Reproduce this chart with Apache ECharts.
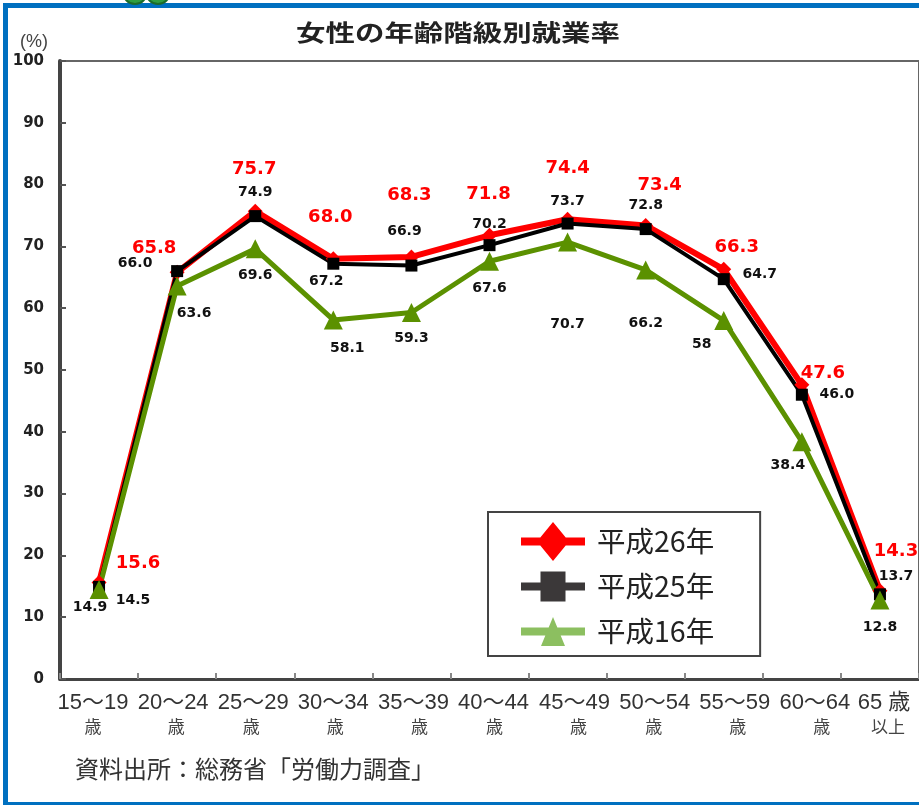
<!DOCTYPE html>
<html>
<head>
<meta charset="utf-8">
<title>女性の年齢階級別就業率</title>
<style>
  html, body { margin: 0; padding: 0; background: #fff; }
  #chart { width: 919px; height: 805px; }
</style>
<script src="https://cdn.jsdelivr.net/npm/echarts@6/dist/echarts.min.js"></script>
</head>
<body>
<div id="chart"></div>
<script>
var ageGroups = ['15～19', '20～24', '25～29', '30～34', '35～39', '40～44', '45～49', '50～54', '55～59', '60～64', '65 歳'];
var ageSuffix = ['歳', '歳', '歳', '歳', '歳', '歳', '歳', '歳', '歳', '歳', '以上'];
var yTicks = [0, 10, 20, 30, 40, 50, 60, 70, 80, 90, 100];

var h26 = [15.6, 65.8, 75.7, 68.0, 68.3, 71.8, 74.4, 73.4, 66.3, 47.6, 14.3];
var h25 = [14.9, 66.0, 74.9, 67.2, 66.9, 70.2, 73.7, 72.8, 64.7, 46.0, 13.7];
var h16 = [14.5, 63.6, 69.6, 58.1, 59.3, 67.6, 70.7, 66.2, 58, 38.4, 12.8];
var h16Text = ['14.5', '63.6', '69.6', '58.1', '59.3', '67.6', '70.7', '66.2', '58', '38.4', '12.8'];

// ラベルは元の図で手置きされているので点ごとにずらす
var h26Offset = [[39, -19], [-23, -24], [-1, -42], [-3, -41], [-2, -62], [-1, -41], [0, -51], [14, -40], [13, -22], [21, -12], [16, -39]];
var h25Offset = [[-9, 20], [-42, -8], [0, -24], [-7, 18], [-7, -34], [0, -21], [0, -22], [0, -24], [36, -5], [35, 0], [16, -18]];
var h16Offset = [[34, 11], [17, 27], [0, 26], [14, 28], [0, 26], [0, 27], [0, 82], [0, 53], [-22, 24], [-14, 24], [0, 27]];
var xLabelShift = [-6, -4, -2, 0, 2, 4, 7, 9, 11, 13, 4];
var suffixShift = [0, 3, -2, 2, 6, 1, 4, -1, 3, 7, 4];

// 凡例の記号は大きさが違うので、線ごと 64x39 のパスで描く
var legendLine = 'path://M0 15.5L64 15.5L64 23.5L0 23.5Z';
var iconDiamond = legendLine + 'M32 0L48 19.5L32 39L16 19.5Z';
var iconSquare = legendLine + 'M32 0L32 0ZM32 39L32 39ZM19.5 4.5L44.5 4.5L44.5 34.5L19.5 34.5Z';
var iconTriangle = legendLine + 'M32 0L32 0ZM32 39L32 39ZM32 5L44 34L20 34Z';

function pointData(values, offsets, texts) {
  return values.map(function (v, i) {
    return {
      value: v,
      label: {
        offset: offsets[i],
        formatter: texts ? texts[i] : v.toFixed(1)
      }
    };
  });
}

function makeSeries(name, values, offsets, color, symbol, size, width, fontSize, texts) {
  return {
    name: name,
    type: 'line',
    data: pointData(values, offsets, texts),
    symbol: symbol,
    symbolSize: size,
    showAllSymbol: true,
    lineStyle: { color: color, width: width },
    itemStyle: { color: color },
    label: {
      show: true,
      position: 'inside',
      color: name === '平成26年' ? '#ff0000' : '#111',
      fontFamily: 'DejaVu Sans',
      fontWeight: 'bold',
      fontSize: fontSize
    },
    emphasis: { disabled: true },
    animation: false
  };
}

// 二行目の字の位置が列ごとに揃っていないので、ずれごとにスタイルを作る
var xRich = {};
suffixShift.forEach(function (d, i) {
  xRich['s' + i] = {
    fontFamily: 'Noto Sans CJK JP',
    fontSize: 17,
    color: '#444',
    lineHeight: 24,
    padding: d > 0 ? [0, 0, 0, d * 2] : [0, -d * 2, 0, 0]
  };
});

var chart = echarts.init(document.getElementById('chart'), null, { renderer: 'canvas' });
chart.setOption({
  animation: false,
  backgroundColor: '#ffffff',
  title: {
    text: '資料出所：総務省「労働力調査」',
    left: 70,
    top: 752,
    textStyle: { fontFamily: 'Noto Sans CJK JP', fontSize: 24, fontWeight: 'normal', color: '#333' }
  },
  grid: {
    show: true,
    left: 60,
    right: 0,
    top: 61,
    bottom: 126,
    borderColor: '#666',
    borderWidth: 2
  },
  legend: {
    left: 488,
    top: 512,
    orient: 'vertical',
    backgroundColor: '#fff',
    borderColor: '#444',
    borderWidth: 2,
    padding: [10, 46, 5, 33],
    itemWidth: 64,
    itemHeight: 39,
    itemGap: 6,
    textStyle: { fontFamily: 'Noto Sans CJK JP', fontSize: 28.5, color: '#222', padding: [0, 0, 0, 7] },
    data: [
      { name: '平成26年', icon: iconDiamond, itemStyle: { color: '#ff0000' } },
      { name: '平成25年', icon: iconSquare, itemStyle: { color: '#3b3839' } },
      { name: '平成16年', icon: iconTriangle, itemStyle: { color: '#8cbf60' } }
    ]
  },
  xAxis: {
    type: 'category',
    boundaryGap: true,
    data: ageGroups.map(function (g, i) {
      return {
        value: g,
        textStyle: {
          padding: xLabelShift[i] > 0 ? [0, 0, 0, xLabelShift[i] * 2] : [0, -xLabelShift[i] * 2, 0, 0]
        }
      };
    }),
    axisLine: { onZero: false, lineStyle: { color: '#444', width: 3 } },
    axisTick: { show: true, inside: true, length: 6, lineStyle: { color: '#888', width: 2 }, alignWithLabel: false },
    axisLabel: {
      interval: 0,
      margin: 12,
      hideOverlap: false,
      fontFamily: 'Liberation Sans, Noto Sans CJK JP',
      fontSize: 22,
      lineHeight: 24,
      color: '#333',
      formatter: function (value, index) {
        return value + '\n{s' + index + '|' + ageSuffix[index] + '}';
      },
      rich: xRich
    }
  },
  yAxis: {
    type: 'value',
    min: yTicks[0],
    max: yTicks[yTicks.length - 1],
    interval: 10,
    name: '(%)',
    nameLocation: 'end',
    nameGap: 10,
    nameTextStyle: { fontFamily: 'Liberation Sans', fontSize: 18, color: '#444', align: 'right', padding: [0, 12, 0, 0] },
    axisLine: { show: true, lineStyle: { color: '#444', width: 4 } },
    axisTick: { show: true, inside: true, length: 6, lineStyle: { color: '#555', width: 2 } },
    splitLine: { show: false },
    axisLabel: {
      margin: 16,
      fontFamily: 'DejaVu Sans',
      fontWeight: 'bold',
      fontSize: 15,
      color: '#222'
    }
  },
  series: [
    makeSeries('平成26年', h26, h26Offset, '#ff0000', 'diamond', 15, 6, 18),
    makeSeries('平成25年', h25, h25Offset, '#000000', 'rect', 12, 4, 14),
    makeSeries('平成16年', h16, h16Offset, '#5b9100', 'triangle', 19, 5, 14, h16Text)
  ],
  graphic: [
    // 枠
    { type: 'rect', silent: true, shape: { x: 3, y: 3, width: 5, height: 802 }, style: { fill: '#0070c0' } },
    { type: 'rect', silent: true, shape: { x: 3, y: 3, width: 916, height: 5 }, style: { fill: '#0070c0' } },
    { type: 'rect', silent: true, shape: { x: 3, y: 802, width: 916, height: 3 }, style: { fill: '#0070c0' } },
    // 上端で切れているロゴ
    { type: 'circle', silent: true, shape: { cx: 135, cy: -8, r: 12 }, style: { fill: '#2e9e40', stroke: '#1c6b2a', lineWidth: 2 } },
    { type: 'circle', silent: true, shape: { cx: 158, cy: -8, r: 12 }, style: { fill: '#2e9e40', stroke: '#1c6b2a', lineWidth: 2 } },
    // 見出しは横に広い字体なので横方向に伸ばす
    {
      type: 'text',
      silent: true,
      x: 458,
      y: 32,
      scaleX: 1.28,
      style: {
        text: '女性の年齢階級別就業率',
        fontFamily: 'Noto Sans CJK JP',
        fontWeight: 'bold',
        fontSize: 23,
        fill: '#222',
        align: 'center',
        verticalAlign: 'middle'
      }
    }
  ]
});
</script>
</body>
</html>
